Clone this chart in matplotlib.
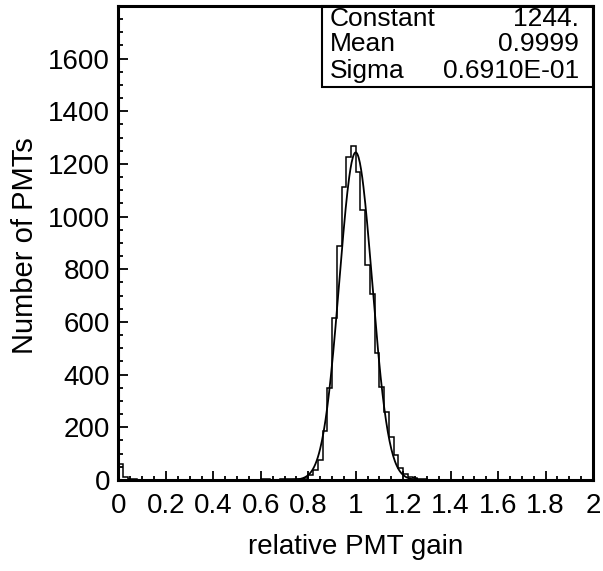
import numpy as np
import matplotlib
matplotlib.use("Agg")
import matplotlib.pyplot as plt
import matplotlib.patches as patches
from matplotlib.ticker import MultipleLocator

plt.rcParams['font.family'] = ['Liberation Sans', 'DejaVu Sans']

# histogram of relative PMT gain: 100 bins of width 0.02 between 0 and 2
bin_edges = np.linspace(0.0, 2.0, 101)
counts = [
    60, 12, 4, 2, 1, 1, 0, 0, 0, 0,
    0, 0, 0, 0, 0, 0, 0, 0, 0, 0,
    0, 0, 0, 0, 0, 0, 0, 0, 0, 1,
    3, 3, 1, 1, 2, 2, 3, 3, 4, 8,
    18, 38, 76, 186, 351, 614, 889, 1112, 1226, 1270,
    1168, 1026, 817, 707, 481, 354, 260, 165, 95, 44,
    22, 13, 6, 3, 2, 1, 0, 0, 0, 0,
    0, 0, 0, 0, 0, 0, 0, 0, 0, 0,
    0, 0, 0, 0, 0, 0, 0, 0, 0, 0,
    0, 0, 0, 0, 0, 0, 0, 0, 0, 0,
]

# gaussian fit parameters (as printed in the stats box)
fit_names = ["Constant", "Mean", "Sigma"]
fit_labels = ["1244.", "0.9999", "0.6910E-01"]
fit_const, fit_mean, fit_sigma = 1244.0, 0.9999, 0.0691

x_ticks = [0, 0.2, 0.4, 0.6, 0.8, 1.0, 1.2, 1.4, 1.6, 1.8, 2.0]
x_ticklabels = ["0", "0.2", "0.4", "0.6", "0.8", "1", "1.2", "1.4", "1.6", "1.8", "2"]
y_ticks = [0, 200, 400, 600, 800, 1000, 1200, 1400, 1600]

fig = plt.figure(figsize=(6.03, 5.71), dpi=100)
ax = fig.add_axes([0.1965, 0.1594, 0.7869, 0.8301])

ax.stairs(counts, bin_edges, color='black', linewidth=1.1)

xf = np.linspace(0.0, 2.0, 801)
yf = fit_const * np.exp(-0.5 * ((xf - fit_mean) / fit_sigma) ** 2)
ax.plot(xf, yf, color='black', linewidth=1.3)

ax.set_xlim(0, 2)
ax.set_ylim(0, 1800)
ax.set_xticks(x_ticks)
ax.set_xticklabels(x_ticklabels)
ax.set_yticks(y_ticks)
ax.xaxis.set_minor_locator(MultipleLocator(0.05))
ax.yaxis.set_minor_locator(MultipleLocator(50))

ax.tick_params(which='both', direction='in', top=False, right=False, width=1.3,
               labelsize=20)
ax.tick_params(axis='x', which='major', length=6.5, pad=9.5)
ax.tick_params(axis='x', which='minor', length=3)
ax.tick_params(axis='y', which='major', length=7.5, pad=6)
ax.tick_params(axis='y', which='minor', length=3.6)
for s in ax.spines.values():
    s.set_linewidth(2.2)

ax.set_xlabel("relative PMT gain", fontsize=20)
ax.set_ylabel("Number of PMTs", fontsize=21)
ax.xaxis.set_label_coords(0.5, -0.113)
ax.yaxis.set_label_coords(-0.168, 0.494)

# stats box in the upper right corner
box = patches.Rectangle((0.429, 0.829), 0.571, 0.171, transform=ax.transAxes,
                        fill=False, edgecolor='black', linewidth=1.5, clip_on=False)
ax.add_patch(box)
row_y = [0.958, 0.9045, 0.849]
for name, val, yy in zip(fit_names, fit_labels, row_y):
    ax.text(0.446, yy, name, transform=ax.transAxes, fontsize=19, ha='left', va='baseline')
    ax.text(0.9705, yy, val, transform=ax.transAxes, fontsize=19, ha='right', va='baseline')

fig.savefig("out.png", dpi=100)
